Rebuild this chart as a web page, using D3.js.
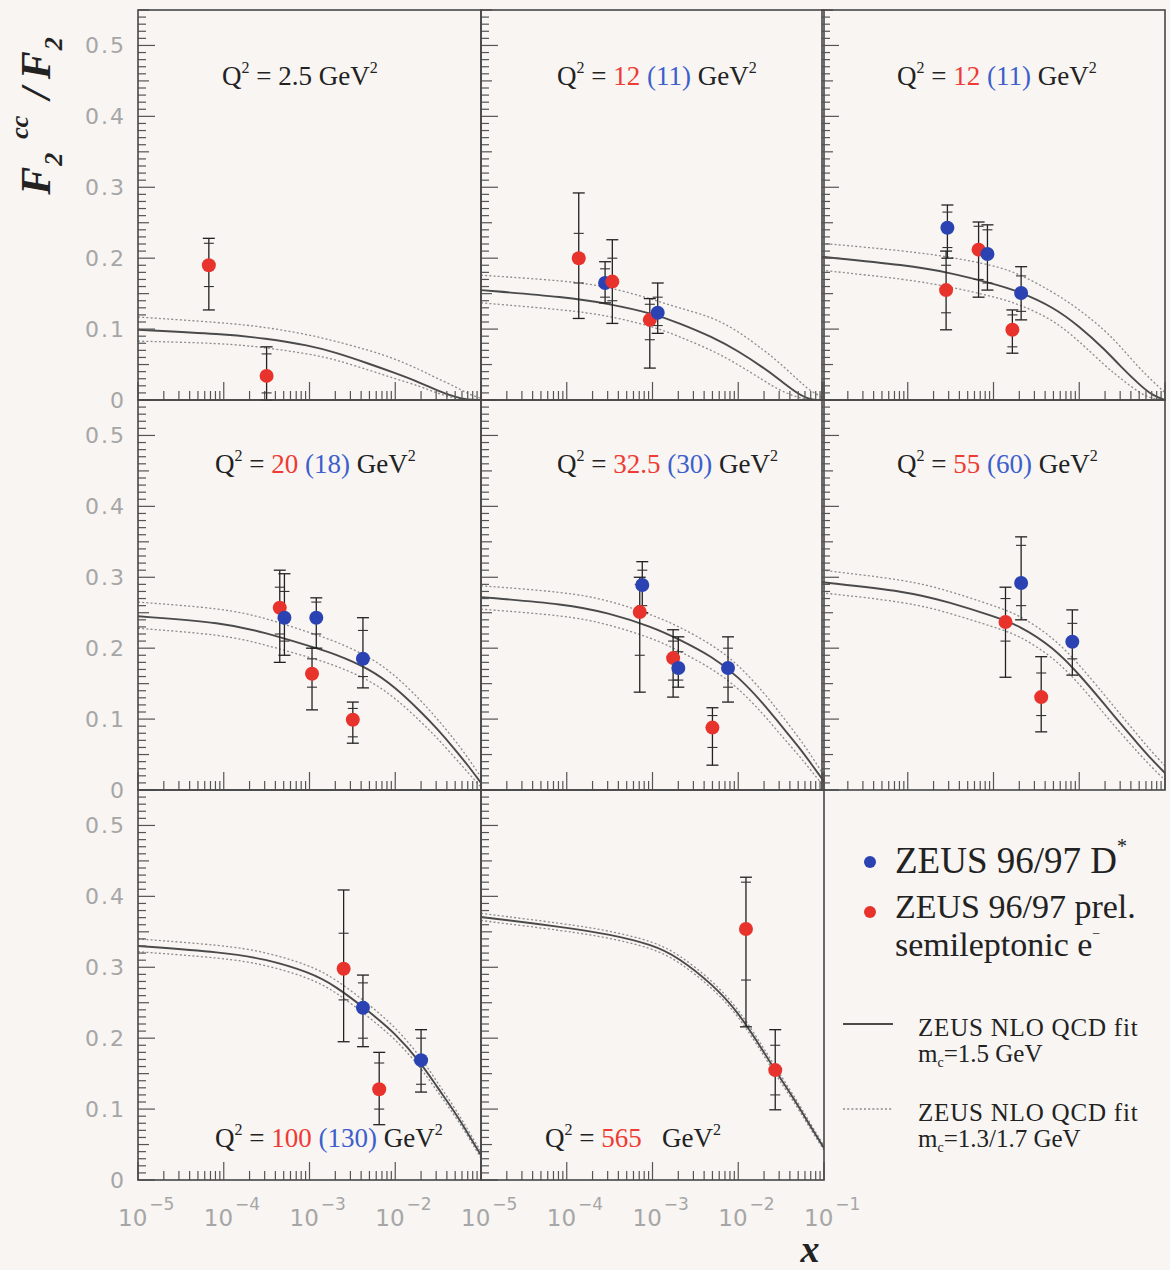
<!DOCTYPE html>
<html>
<head>
<meta charset="utf-8">
<script src="https://cdn.jsdelivr.net/npm/d3@7"></script>
<style>
  html, body { margin: 0; padding: 0; background: #f8f5f3; }
  svg { display: block; }
</style>
</head>
<body>
<svg id="chart" width="1170" height="1270"></svg>
<script>
// ---------------- DATA ----------------
// Q^2 labels per panel: [text, colour-key]
const panelLabels = [
  [["2.5", "k"]],
  [["12", "r"], ["(11)", "b"]],
  [["12", "r"], ["(11)", "b"]],
  [["20", "r"], ["(18)", "b"]],
  [["32.5", "r"], ["(30)", "b"]],
  [["55", "r"], ["(60)", "b"]],
  [["100", "r"], ["(130)", "b"]],
  [["565", "r"]]
];
const panelRow = [0, 0, 0, 1, 1, 1, 2, 2];
const panelCol = [0, 1, 2, 0, 1, 2, 0, 1];

// NLO QCD fit curves, read at common x values
const fitX = [1e-5, 1e-4, 3e-4, 1e-3, 2e-3, 5e-3, 1e-2, 2e-2, 3e-2, 5e-2, 7e-2, 1e-1];
const fitCentral = [
  [0.099, 0.093, 0.087, 0.077, 0.067, 0.051, 0.038, 0.024, 0.014, 0.004, 0.000, 0.000],
  [0.155, 0.145, 0.136, 0.122, 0.109, 0.089, 0.069, 0.045, 0.029, 0.008, 0.000, 0.000],
  [0.202, 0.190, 0.180, 0.164, 0.153, 0.131, 0.104, 0.071, 0.048, 0.022, 0.007, 0.000],
  [0.245, 0.236, 0.222, 0.203, 0.192, 0.171, 0.145, 0.110, 0.088, 0.057, 0.035, 0.010],
  [0.272, 0.262, 0.250, 0.230, 0.213, 0.188, 0.160, 0.121, 0.094, 0.062, 0.038, 0.012],
  [0.293, 0.280, 0.265, 0.245, 0.232, 0.201, 0.163, 0.120, 0.094, 0.063, 0.043, 0.024],
  [0.330, 0.321, 0.312, 0.293, 0.274, 0.237, 0.207, 0.165, 0.133, 0.095, 0.066, 0.035],
  [0.371, 0.356, 0.347, 0.332, 0.314, 0.276, 0.237, 0.180, 0.146, 0.105, 0.075, 0.045]
];
const fitUpper = [
  [0.117, 0.109, 0.103, 0.092, 0.083, 0.070, 0.058, 0.042, 0.031, 0.019, 0.009, 0.002],
  [0.176, 0.168, 0.160, 0.142, 0.130, 0.117, 0.097, 0.070, 0.053, 0.028, 0.012, 0.003],
  [0.221, 0.210, 0.202, 0.190, 0.178, 0.152, 0.128, 0.098, 0.076, 0.045, 0.028, 0.010],
  [0.265, 0.256, 0.243, 0.222, 0.210, 0.188, 0.162, 0.126, 0.102, 0.070, 0.046, 0.018],
  [0.288, 0.279, 0.268, 0.247, 0.231, 0.205, 0.177, 0.137, 0.110, 0.075, 0.050, 0.020],
  [0.310, 0.296, 0.281, 0.260, 0.247, 0.215, 0.177, 0.133, 0.107, 0.075, 0.054, 0.034],
  [0.340, 0.331, 0.322, 0.303, 0.284, 0.247, 0.216, 0.173, 0.140, 0.101, 0.071, 0.040],
  [0.376, 0.361, 0.352, 0.337, 0.319, 0.281, 0.242, 0.185, 0.151, 0.109, 0.079, 0.048]
];
const fitLower = [
  [0.083, 0.080, 0.074, 0.065, 0.057, 0.042, 0.030, 0.019, 0.010, 0.002, 0.000, 0.000],
  [0.137, 0.127, 0.119, 0.104, 0.090, 0.070, 0.050, 0.027, 0.014, 0.003, 0.000, 0.000],
  [0.183, 0.170, 0.160, 0.146, 0.135, 0.113, 0.083, 0.048, 0.031, 0.010, 0.002, 0.000],
  [0.228, 0.219, 0.205, 0.187, 0.176, 0.155, 0.130, 0.096, 0.075, 0.045, 0.025, 0.004],
  [0.255, 0.246, 0.234, 0.214, 0.197, 0.171, 0.144, 0.106, 0.080, 0.050, 0.028, 0.005],
  [0.278, 0.265, 0.250, 0.230, 0.218, 0.187, 0.150, 0.106, 0.081, 0.051, 0.032, 0.014],
  [0.322, 0.313, 0.304, 0.285, 0.266, 0.229, 0.199, 0.158, 0.127, 0.090, 0.062, 0.031],
  [0.366, 0.351, 0.342, 0.327, 0.309, 0.271, 0.232, 0.175, 0.141, 0.101, 0.071, 0.042]
];

// Data points: [panel, x, value, statLow, statHigh, totalLow, totalHigh]
const semilepPoints = [
  [0, 6.7e-5, 0.190, 0.160, 0.221, 0.127, 0.228],
  [0, 3.16e-4, 0.034, 0.010, 0.065, 0.000, 0.075],
  [1, 1.38e-4, 0.200, 0.165, 0.235, 0.115, 0.292],
  [1, 3.4e-4, 0.167, 0.140, 0.200, 0.108, 0.226],
  [1, 9.3e-4, 0.113, 0.085, 0.135, 0.045, 0.143],
  [2, 2.8e-4, 0.155, 0.123, 0.190, 0.099, 0.210],
  [2, 6.7e-4, 0.212, 0.170, 0.245, 0.145, 0.251],
  [2, 1.66e-3, 0.099, 0.075, 0.120, 0.066, 0.127],
  [3, 4.5e-4, 0.257, 0.220, 0.286, 0.180, 0.310],
  [3, 1.07e-3, 0.164, 0.145, 0.185, 0.113, 0.200],
  [3, 3.2e-3, 0.099, 0.075, 0.115, 0.066, 0.124],
  [4, 7.1e-4, 0.251, 0.190, 0.290, 0.138, 0.300],
  [4, 1.74e-3, 0.186, 0.155, 0.210, 0.131, 0.226],
  [4, 5.0e-3, 0.088, 0.060, 0.105, 0.035, 0.116],
  [5, 1.38e-3, 0.237, 0.210, 0.270, 0.159, 0.286],
  [5, 3.6e-3, 0.131, 0.105, 0.165, 0.082, 0.188],
  [6, 2.5e-3, 0.298, 0.254, 0.348, 0.195, 0.409],
  [6, 6.5e-3, 0.128, 0.100, 0.165, 0.078, 0.180],
  [7, 1.23e-2, 0.354, 0.282, 0.420, 0.216, 0.427],
  [7, 2.7e-2, 0.155, 0.120, 0.190, 0.099, 0.212]
];
const dstarPoints = [
  [1, 2.8e-4, 0.165, 0.145, 0.185, 0.137, 0.195],
  [1, 1.15e-3, 0.123, 0.105, 0.145, 0.094, 0.165],
  [2, 2.9e-4, 0.243, 0.215, 0.265, 0.200, 0.275],
  [2, 8.5e-4, 0.206, 0.165, 0.240, 0.155, 0.247],
  [2, 2.1e-3, 0.151, 0.125, 0.175, 0.113, 0.188],
  [3, 5.1e-4, 0.243, 0.210, 0.280, 0.190, 0.305],
  [3, 1.2e-3, 0.243, 0.220, 0.265, 0.200, 0.271],
  [3, 4.2e-3, 0.185, 0.160, 0.225, 0.144, 0.243],
  [4, 7.6e-4, 0.289, 0.260, 0.310, 0.250, 0.322],
  [4, 2.0e-3, 0.172, 0.155, 0.195, 0.145, 0.216],
  [4, 7.6e-3, 0.172, 0.145, 0.200, 0.124, 0.216],
  [5, 2.1e-3, 0.292, 0.260, 0.345, 0.240, 0.357],
  [5, 8.3e-3, 0.209, 0.185, 0.235, 0.162, 0.254],
  [6, 4.2e-3, 0.243, 0.200, 0.278, 0.188, 0.289],
  [6, 2.0e-2, 0.169, 0.135, 0.200, 0.124, 0.212]
];

const yTickValues = [0, 0.1, 0.2, 0.3, 0.4, 0.5];
const yTickLabels = ["0", "0.1", "0.2", "0.3", "0.4", "0.5"];
const xDecades = [1e-5, 1e-4, 1e-3, 1e-2, 1e-1];
const xDecadeExp = ["\u22125", "\u22124", "\u22123", "\u22122", "\u22121"];

const legendEntries = [
  { type: "dot", key: "b", lines: ["ZEUS 96/97 D", "*"] },
  { type: "dot", key: "r", lines: ["ZEUS 96/97 prel.", "semileptonic e", "\u2212"] },
  { type: "solid", lines: ["ZEUS NLO QCD fit", "1.5 GeV"] },
  { type: "dotted", lines: ["ZEUS NLO QCD fit", "1.3/1.7 GeV"] }
];

// ---------------- LAYOUT / STYLE ----------------
const colX0 = [138, 481, 822];
const panelW = 343;
const rowBase = [400, 790, 1180];
const panelH = 390;
const yMax = 0.55;
const labelDx = [84, 76, 75, 77, 76, 75, 77, 64];
const labelDyFromTop = [75, 75, 75, 73, 73, 73, 357, 357];

const RED = "#e8332c", BLUE = "#2b43b2";
const TXT_RED = "#ee3b33", TXT_BLUE = "#3d5fcc";
const FRAME = "#474747";
const GRAY_LBL = "#a6a6a6";

const svg = d3.select("#chart");
const defs = svg.append("defs");

panelRow.forEach((row, i) => {
  const col = panelCol[i];
  const x0 = colX0[col];
  const base = rowBase[row];
  const top = base - panelH;
  const xs = d3.scaleLog().domain([1e-5, 1e-1]).range([x0, x0 + panelW]);
  const ys = d3.scaleLinear().domain([0, yMax]).range([base, top]);

  const g = svg.append("g").attr("class", "panel");
  defs.append("clipPath").attr("id", "clip" + i)
    .append("rect").attr("x", x0).attr("y", top).attr("width", panelW).attr("height", panelH);

  // fit curves
  const line = (vals) => d3.line()
    .x((d, k) => xs(fitX[k]))
    .y((d) => ys(d))
    .curve(d3.curveBasis)(vals);
  const cg = g.append("g").attr("clip-path", "url(#clip" + i + ")");
  [fitUpper[i], fitLower[i]].forEach(v => {
    cg.append("path").attr("d", line(v)).attr("fill", "none")
      .attr("stroke", "#8c8c8c").attr("stroke-width", 1.3).attr("stroke-dasharray", "2,2.2");
  });
  cg.append("path").attr("d", line(fitCentral[i])).attr("fill", "none")
    .attr("stroke", "#4a4a4a").attr("stroke-width", 1.9);

  // ticks: left axis
  const yt = d3.range(0, 56).map(k => k / 100);
  g.selectAll(".yt").data(yt).enter().append("line")
    .attr("x1", x0).attr("x2", d => x0 + (Math.round(d * 100) % 10 === 0 ? 17 : (Math.round(d * 100) % 5 === 0 ? 11 : 8)))
    .attr("y1", d => ys(d)).attr("y2", d => ys(d))
    .attr("stroke", "#555").attr("stroke-width", 1.2);
  // bottom axis ticks
  const xt = [];
  for (let e = -5; e <= -1; e++) for (let m = 1; m <= 9; m++) {
    const v = m * Math.pow(10, e);
    if (v <= 0.1000001) xt.push({ v, major: m === 1 });
  }
  g.selectAll(".xt").data(xt).enter().append("line")
    .attr("x1", d => xs(d.v)).attr("x2", d => xs(d.v))
    .attr("y1", base).attr("y2", d => base - (d.major ? 18 : 9))
    .attr("stroke", "#555").attr("stroke-width", 1.2);

  // frame
  g.append("rect").attr("x", x0).attr("y", top).attr("width", panelW).attr("height", panelH)
    .attr("fill", "none").attr("stroke", FRAME).attr("stroke-width", 1.6);

  // data points (sorted by x so the right one sits on top)
  const pts = semilepPoints.filter(p => p[0] === i).map(p => ({ p, c: RED }))
    .concat(dstarPoints.filter(p => p[0] === i).map(p => ({ p, c: BLUE })))
    .sort((a, b) => a.p[1] - b.p[1]);
  pts.forEach(({ p, c }) => {
    const px = xs(p[1]);
    const eg = g.append("g");
    eg.append("line").attr("x1", px).attr("x2", px).attr("y1", ys(p[6])).attr("y2", ys(p[5]))
      .attr("stroke", "#222").attr("stroke-width", 1.3);
    [p[5], p[6]].forEach(v => eg.append("line").attr("x1", px - 6).attr("x2", px + 6)
      .attr("y1", ys(v)).attr("y2", ys(v)).attr("stroke", "#222").attr("stroke-width", 1.3));
    [p[3], p[4]].forEach(v => eg.append("line").attr("x1", px - 5).attr("x2", px + 5)
      .attr("y1", ys(v)).attr("y2", ys(v)).attr("stroke", "#333").attr("stroke-width", 1.1));
  });
  pts.forEach(({ p, c }) => {
    g.append("circle").attr("cx", xs(p[1])).attr("cy", ys(p[2])).attr("r", 7).attr("fill", c);
  });

  // Q^2 label
  const t = g.append("text").attr("x", x0 + labelDx[i]).attr("y", top + labelDyFromTop[i])
    .style("font-family", "'Liberation Serif', 'DejaVu Serif', serif").style("font-size", "27px")
    .attr("fill", "#222");
  t.append("tspan").text("Q");
  t.append("tspan").text("2").style("font-size", "16px").attr("dy", -12);
  t.append("tspan").text(" = ").attr("dy", 12);
  panelLabels[i].forEach((part, k) => {
    t.append("tspan").text((k > 0 ? " " : "") + part[0])
      .attr("fill", part[1] === "r" ? TXT_RED : part[1] === "b" ? TXT_BLUE : "#222");
  });
  t.append("tspan").text(i === 7 ? "\u2002 GeV" : " GeV");
  t.append("tspan").text("2").style("font-size", "16px").attr("dy", -12);

  // y tick labels (first column)
  if (col === 0) {
    yTickValues.forEach((v, k) => {
      svg.append("text").attr("x", 126).attr("y", ys(v)).attr("dy", "0.36em")
        .attr("text-anchor", "end").text(yTickLabels[k])
        .style("font-family", "'DejaVu Sans', sans-serif").style("font-size", "22px")
        .style("letter-spacing", "2px").attr("fill", GRAY_LBL);
    });
  }
  // x tick labels (bottom row)
  if (row === 2) {
    xDecades.forEach((v, k) => {
      if (col === 0 && k === 4) return;
      const tx = svg.append("text").attr("x", xs(v) - 20).attr("y", base + 46)
        .style("font-family", "'DejaVu Sans', sans-serif").style("font-size", "23px")
        .attr("fill", GRAY_LBL);
      tx.append("tspan").text("10");
      tx.append("tspan").text(xDecadeExp[k]).style("font-size", "17px").attr("dy", -16).attr("dx", 2);
    });
  }
});

// axis titles
svg.append("text").attr("x", 810).attr("y", 1262).attr("text-anchor", "middle")
  .style("font-family", "'Liberation Serif', serif").style("font-style", "italic")
  .style("font-weight", "bold").style("font-size", "38px").attr("fill", "#222").text("x");

const yt = svg.append("text").attr("transform", "translate(50,116) rotate(-90)")
  .attr("text-anchor", "middle")
  .style("font-family", "'Liberation Serif', serif").style("font-style", "italic")
  .style("font-weight", "bold").style("font-size", "42px").attr("fill", "#222");
yt.append("tspan").text("F");
yt.append("tspan").text("2").style("font-size", "26px").attr("dy", 12).attr("dx", 1);
yt.append("tspan").text("cc").style("font-size", "26px").attr("dy", -34).attr("dx", 14);
yt.append("tspan").text("\u2009/\u2009F").attr("dy", 22).attr("dx", 8);
yt.append("tspan").text("2").style("font-size", "26px").attr("dy", 12).attr("dx", 1);

// legend
const lg = svg.append("g").style("font-family", "'Liberation Serif', serif").attr("fill", "#222");
// blue D*
lg.append("circle").attr("cx", 870).attr("cy", 862).attr("r", 6).attr("fill", BLUE);
let lt = lg.append("text").attr("x", 895).attr("y", 873).style("font-size", "37px");
lt.append("tspan").text(legendEntries[0].lines[0]);
lt.append("tspan").text(legendEntries[0].lines[1]).style("font-size", "20px").attr("dy", -20);
// red semileptonic
lg.append("circle").attr("cx", 870).attr("cy", 912).attr("r", 6).attr("fill", RED);
lg.append("text").attr("x", 895).attr("y", 918).style("font-size", "34px").text(legendEntries[1].lines[0]);
lt = lg.append("text").attr("x", 895).attr("y", 956).style("font-size", "34px");
lt.append("tspan").text(legendEntries[1].lines[1]);
lt.append("tspan").text(legendEntries[1].lines[2]).style("font-size", "14px").attr("dy", -18);
// solid fit
lg.append("line").attr("x1", 843).attr("x2", 893).attr("y1", 1024).attr("y2", 1024)
  .attr("stroke", "#4a4a4a").attr("stroke-width", 1.9);
lg.append("text").attr("x", 918).attr("y", 1036).style("font-size", "25px")
  .style("letter-spacing", "0.8px").text(legendEntries[2].lines[0]);
lt = lg.append("text").attr("x", 918).attr("y", 1062).style("font-size", "25px");
lt.append("tspan").text("m");
lt.append("tspan").text("c").style("font-size", "14px").attr("dy", 5);
lt.append("tspan").text("=" + legendEntries[2].lines[1]).attr("dy", -5);
// dotted fit
lg.append("line").attr("x1", 843).attr("x2", 893).attr("y1", 1109).attr("y2", 1109)
  .attr("stroke", "#8c8c8c").attr("stroke-width", 1.3).attr("stroke-dasharray", "2,2.2");
lg.append("text").attr("x", 918).attr("y", 1121).style("font-size", "25px")
  .style("letter-spacing", "0.8px").text(legendEntries[3].lines[0]);
lt = lg.append("text").attr("x", 918).attr("y", 1147).style("font-size", "25px");
lt.append("tspan").text("m");
lt.append("tspan").text("c").style("font-size", "14px").attr("dy", 5);
lt.append("tspan").text("=" + legendEntries[3].lines[1]).attr("dy", -5);
</script>
</body>
</html>
